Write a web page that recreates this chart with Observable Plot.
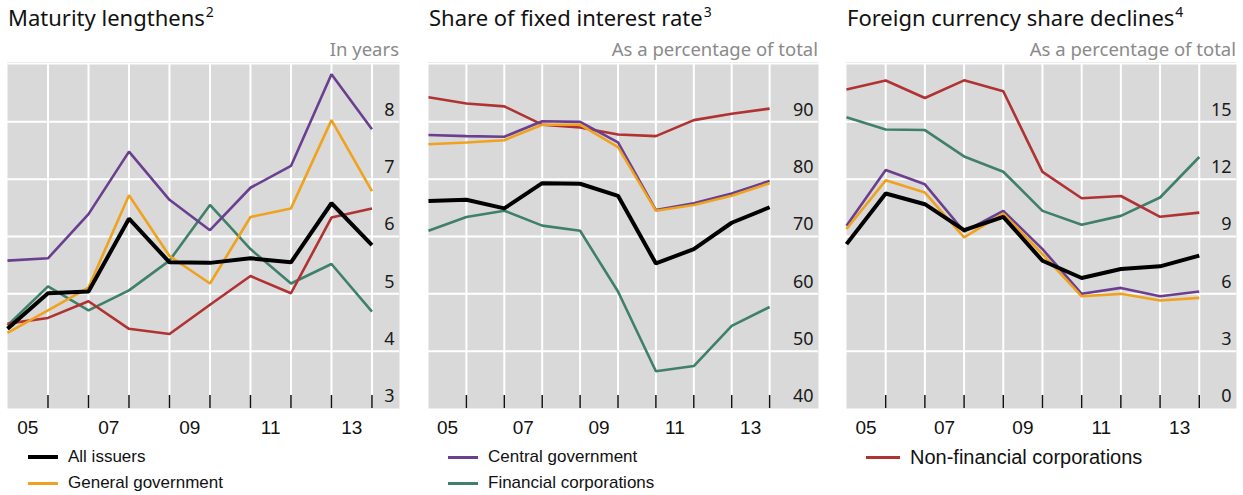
<!DOCTYPE html>
<html>
<head>
<meta charset="utf-8">
<script src="https://cdn.jsdelivr.net/npm/d3@7"></script>
<script src="https://cdn.jsdelivr.net/npm/@observablehq/plot@0.6"></script>
<style>
  html, body { margin: 0; padding: 0; background: #fff; }
  #root { position: relative; width: 1243px; height: 495px; overflow: hidden; font-family: "Noto Sans", sans-serif; }
  .title { position: absolute; font-size: 22px; color: #111; white-space: nowrap; }
  .title sup { font-size: 14px; vertical-align: 0; position: relative; top: -9px; margin-left: 1px; }
  .sub { position: absolute; font-size: 18.5px; color: #8a8a8a; white-space: nowrap; text-align: right; }
  .topline { position: absolute; height: 1px; background: #ececec; }
  .panel { position: absolute; }
  .leg { position: absolute; font-family: "Liberation Sans", Arial, sans-serif; font-size: 17px; color: #111; white-space: nowrap; display: flex; align-items: center; }
  .leg .sw { display: inline-block; width: 30px; margin-right: 10px; }
</style>
</head>
<body>
<div id="root"></div>
<script>
// ---- Data ----
const years = [2005, 2006, 2007, 2008, 2009, 2010, 2011, 2012, 2013, 2014];
const xTickLabels = ["05", "07", "09", "11", "13"];
const xLabelYears = [2005, 2007, 2009, 2011, 2013];

const seriesNames = ["All issuers", "General government", "Central government", "Financial corporations", "Non-financial corporations"];
const seriesColors = ["#000000", "#f0a21e", "#6a3f8f", "#3f8068", "#b03232"];

// Panel 1: Maturity (years)
const matAll     = [4.39, 5.01, 5.04, 6.31, 5.55, 5.54, 5.62, 5.55, 6.58, 5.85];
const matGeneral = [4.32, 4.71, 5.11, 6.72, 5.66, 5.18, 6.34, 6.49, 8.03, 6.79];
const matCentral = [5.58, 5.62, 6.39, 7.48, 6.64, 6.11, 6.85, 7.23, 8.83, 7.87];
const matFin     = [4.45, 5.13, 4.71, 5.06, 5.58, 6.55, 5.78, 5.18, 5.52, 4.69];
const matNonFin  = [4.48, 4.58, 4.87, 4.39, 4.30, 4.81, 5.31, 5.01, 6.33, 6.49];

// Panel 2: Share of fixed interest rate (%)
const fixAll     = [76.2, 76.4, 74.9, 79.3, 79.2, 77.1, 65.3, 67.8, 72.4, 75.1];
const fixGeneral = [86.1, 86.4, 86.8, 89.5, 89.5, 85.6, 74.5, 75.5, 77.1, 79.3];
const fixCentral = [87.7, 87.5, 87.4, 90.1, 90.0, 86.4, 74.6, 75.8, 77.5, 79.7];
const fixFin     = [71.0, 73.4, 74.5, 71.9, 71.0, 60.4, 46.5, 47.4, 54.4, 57.7];
const fixNonFin  = [94.3, 93.2, 92.7, 89.5, 89.0, 87.8, 87.5, 90.3, 91.4, 92.3];

// Panel 3: Foreign currency share (%)
const fxAll      = [8.60, 11.25, 10.69, 9.33, 10.03, 7.73, 6.83, 7.30, 7.44, 8.00];
const fxGeneral  = [9.39, 11.94, 11.30, 8.95, 10.20, 8.08, 5.87, 6.00, 5.65, 5.79];
const fxCentral  = [9.56, 12.48, 11.73, 9.26, 10.34, 8.34, 6.00, 6.31, 5.87, 6.12];
const fxFin      = [15.24, 14.60, 14.57, 13.19, 12.39, 10.34, 9.61, 10.08, 11.04, 13.16];
const fxNonFin   = [16.69, 17.16, 16.25, 17.17, 16.60, 12.38, 11.00, 11.12, 10.03, 10.25];

const titles = ["Maturity lengthens", "Share of fixed interest rate", "Foreign currency share declines"];
const footnotes = ["2", "3", "4"];
const subtitles = ["In years", "As a percentage of total", "As a percentage of total"];
const yTicks1 = [3, 4, 5, 6, 7, 8];
const yTicks2 = [40, 50, 60, 70, 80, 90];
const yTicks3 = [0, 3, 6, 9, 12, 15];

// ---- Layout ----
const root = document.getElementById("root");
const panels = [
  {left: 7,   width: 392, xMax: 2014.68, yDomain: [3, 9],    ticks: yTicks1, series: [matAll, matGeneral, matCentral, matFin, matNonFin]},
  {left: 428, width: 390, xMax: 2015.29, yDomain: [40, 100], ticks: yTicks2, series: [fixAll, fixGeneral, fixCentral, fixFin, fixNonFin]},
  {left: 846, width: 390, xMax: 2014.95, yDomain: [0, 18],   ticks: yTicks3, series: [fxAll, fxGeneral, fxCentral, fxFin, fxNonFin]}
];
const plotTop = 64, grayH = 344, bottomM = 36;
const drawOrder = [3, 4, 2, 1, 0];

panels.forEach((p, i) => {
  const t = document.createElement("div");
  t.className = "title";
  t.style.left = (p.left + 1) + "px";
  t.style.top = "2px";
  t.innerHTML = titles[i] + "<sup>" + footnotes[i] + "</sup>";
  root.appendChild(t);

  const s = document.createElement("div");
  s.className = "sub";
  s.style.left = p.left + "px";
  s.style.width = p.width + "px";
  s.style.top = "36px";
  s.textContent = subtitles[i];
  root.appendChild(s);

  const tl = document.createElement("div");
  tl.className = "topline";
  tl.style.left = p.left + "px";
  tl.style.width = p.width + "px";
  tl.style.top = (plotTop - 2) + "px";
  root.appendChild(tl);

  const rows = [];
  p.series.forEach((vals, k) => vals.forEach((v, j) => rows.push({x: years[j], y: v, k})));

  const [y0, y1] = p.yDomain;
  const tickLen = (y1 - y0) * 13 / grayH;
  const gridX = years.slice(1);
  const lineMarks = drawOrder.map(k => Plot.line(rows.filter(r => r.k === k), {
    x: "x", y: "y", stroke: seriesColors[k], strokeWidth: k === 0 ? 4 : 2.6,
    strokeLinejoin: "miter", strokeLinecap: "butt"
  }));

  const chart = Plot.plot({
    width: p.width,
    height: grayH + bottomM,
    marginLeft: 0, marginRight: 0, marginTop: 0, marginBottom: bottomM,
    style: {background: "transparent", overflow: "visible"},
    x: {domain: [2005, p.xMax], axis: null},
    y: {domain: p.yDomain, axis: null},
    marks: [
      Plot.frame({fill: "#d9d9d9", stroke: null}),
      Plot.ruleY(p.ticks.slice(1), {stroke: "#ffffff", strokeWidth: 2}),
      Plot.ruleX(gridX, {stroke: "#ffffff", strokeWidth: 2}),
      Plot.ruleX(gridX, {y1: y0, y2: y0 + tickLen, stroke: "#111", strokeWidth: 1.5}),
      ...lineMarks,
      Plot.text(p.ticks, {x: p.xMax, y: d => d, text: d => String(d), textAnchor: "end", dx: -5, dy: -12,
        fontSize: 18, fill: "#1a1a1a", fontFamily: "Noto Sans"}),
      Plot.text(xLabelYears, {x: d => d + 0.5, y: y0, text: (d, j) => xTickLabels[j], dy: 19,
        fontSize: 19, fill: "#111", fontFamily: "Liberation Sans, Arial", lineAnchor: "middle"})
    ]
  });
  const wrap = document.createElement("div");
  wrap.className = "panel";
  wrap.style.left = p.left + "px";
  wrap.style.top = plotTop + "px";
  wrap.appendChild(chart);
  root.appendChild(wrap);
});

// ---- Legend ----
const legendPos = [
  {k: 0, left: 28,  top: 457, size: 17, sw: 30},
  {k: 1, left: 28,  top: 483, size: 17, sw: 30},
  {k: 2, left: 448, top: 457, size: 17, sw: 30},
  {k: 3, left: 448, top: 483, size: 17, sw: 30},
  {k: 4, left: 866, top: 457, size: 20, sw: 34}
];
legendPos.forEach(lp => {
  const d = document.createElement("div");
  d.className = "leg";
  d.style.left = lp.left + "px";
  d.style.top = (lp.top - 12) + "px";
  d.style.height = "24px";
  d.style.fontSize = lp.size + "px";
  const sw = document.createElement("span");
  sw.className = "sw";
  sw.style.height = (lp.k === 0 ? 4 : 3) + "px";
  sw.style.background = seriesColors[lp.k];
  sw.style.width = lp.sw + "px";
  d.appendChild(sw);
  d.appendChild(document.createTextNode(seriesNames[lp.k]));
  root.appendChild(d);
});
</script>
</body>
</html>
